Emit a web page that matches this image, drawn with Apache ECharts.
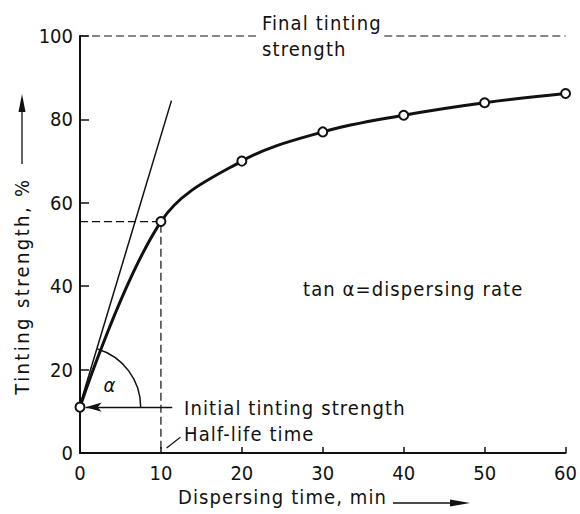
<!DOCTYPE html>
<html><head><meta charset="utf-8">
<script src="https://cdn.jsdelivr.net/npm/echarts@6/dist/echarts.min.js"></script>
<style>
html,body{margin:0;padding:0;background:#fff}
#c{width:580px;height:514px}
#c text[style*="sans-serif"]{letter-spacing:1.1px}
#c text[style*=", serif"]{letter-spacing:2.4px}
</style>
</head><body><div id="c"></div>
<script>
const times = [0, 10, 20, 30, 40, 50, 60];
const strength = [11, 55.5, 70, 77, 81, 84, 86.2];
const xTicks = [0, 10, 20, 30, 40, 50, 60];
const yTicks = [0, 20, 40, 60, 80, 100];
const tangentX = [-1.2, 11.3];
const tangentY = [3.8, 84.5];
const halfLifeTime = 10;
const halfLifeStrength = 55.5;
const finalStrength = 100;
const finalGapX = [21.9, 37.6];
const arcRadiusX = 7.5;
const leaderX = [10.7, 12.4];
const leaderY = [1.2, 3.8];
const arrowX = [11.4, 0.7];

const TICKFONT = '"DejaVu Sans Condensed"';
const TEXTFONT = '"DejaVu Sans Condensed", sans-serif';
const YNAMEFONT = '"DejaVu Sans Condensed", serif';
const INK = '#111';
const chart = echarts.init(document.getElementById('c'), null, {renderer: 'svg'});

const dashed = {color: INK, width: 1.2, type: [8, 4]};
function plainLine(data, lineStyle, extra) {
  return Object.assign({type: 'line', data: data, symbol: 'none', silent: true,
    lineStyle: lineStyle, clip: false, z: 2}, extra || {});
}
function txt(x, y, s, extra) {
  return Object.assign({type: 'text', x: x, y: y,
    style: {text: s, font: '20px ' + TEXTFONT, fill: INK, verticalAlign: 'middle'}}, extra || {});
}

chart.setOption({
  animation: false,
  backgroundColor: '#fff',
  grid: {left: 80, right: 14, top: 36, bottom: 61, containLabel: false},
  xAxis: {
    type: 'value', min: xTicks[0], max: xTicks[xTicks.length - 1], interval: 10,
    axisLine: {lineStyle: {color: INK, width: 2}},
    axisTick: {inside: true, length: 6, lineStyle: {color: INK, width: 1.5}},
    axisLabel: {color: INK, fontFamily: TICKFONT, fontSize: 20, margin: 10},
    splitLine: {show: false}
  },
  yAxis: {
    type: 'value', min: yTicks[0], max: yTicks[yTicks.length - 1], interval: 20,
    axisLine: {show: true, lineStyle: {color: INK, width: 2}},
    axisTick: {show: true, inside: true, length: 9, lineStyle: {color: INK, width: 1.5}},
    axisLabel: {color: INK, fontFamily: TICKFONT, fontSize: 20, margin: 7},
    splitLine: {show: false}
  },
  series: [
    plainLine([[0, halfLifeStrength], [halfLifeTime, halfLifeStrength], [halfLifeTime, 0]], dashed),
    plainLine([[0, finalStrength], [finalGapX[0], finalStrength]], dashed),
    plainLine([[finalGapX[1], finalStrength], [xTicks[xTicks.length - 1], finalStrength]], dashed),
    plainLine([[tangentX[0], tangentY[0]], [tangentX[1], tangentY[1]]], {color: INK, width: 1.5}),
    plainLine([[leaderX[0], leaderY[0]], [leaderX[1], leaderY[1]]], {color: INK, width: 1.2}),
    {
      type: 'custom', silent: true, z: 3, clip: false,
      data: [[0, strength[0]]],
      renderItem: function (params, api) {
        const c = api.coord([0, strength[0]]);
        const e = api.coord([arcRadiusX, strength[0]]);
        const p1 = api.coord([tangentX[0], tangentY[0]]);
        const p2 = api.coord([tangentX[1], tangentY[1]]);
        const a = Math.atan2(p2[1] - p1[1], p2[0] - p1[0]);
        return {
          type: 'arc',
          shape: {cx: c[0], cy: c[1], r: e[0] - c[0], startAngle: a, endAngle: 0, clockwise: true},
          style: {stroke: INK, lineWidth: 1.5, fill: null}
        };
      }
    },
    {
      type: 'line', data: [], silent: true, z: 2,
      markLine: {
        silent: true, animation: false,
        symbol: ['none', 'arrow'], symbolSize: [7, 16],
        label: {show: false},
        lineStyle: {color: INK, width: 1.3, type: 'solid'},
        data: [[{coord: [arrowX[0], strength[0]]}, {coord: [arrowX[1], strength[0]]}]]
      }
    },
    {
      type: 'line', data: times.map((t, i) => [t, strength[i]]),
      smooth: 0.36, clip: false, z: 5,
      symbol: 'circle', symbolSize: 9,
      lineStyle: {color: INK, width: 3},
      itemStyle: {color: '#fff', borderColor: INK, borderWidth: 2}
    }
  ],
  graphic: [
    txt(262, 23, 'Final tinting'),
    txt(262, 49, 'strength'),
    txt(303, 289, 'tan α=dispersing rate'),
    txt(184, 408, 'Initial tinting strength'),
    txt(184, 434, 'Half-life time'),
    txt(110, 385, 'α', {style: {text: 'α', font: 'italic 20px ' + TEXTFONT, fill: INK, align: 'center', verticalAlign: 'middle'}}),
    txt(178, 497, 'Dispersing time, min'),
    {type: 'line', shape: {x1: 393, y1: 503, x2: 455, y2: 503}, style: {stroke: INK, lineWidth: 1.3}},
    {type: 'polygon', shape: {points: [[470, 503], [450, 499.5], [450, 506.5]]}, style: {fill: INK}},
    txt(22, 286, 'Tinting strength, %', {rotation: Math.PI / 2,
      style: {text: 'Tinting strength, %', font: '20px ' + YNAMEFONT, fill: INK, align: 'center', verticalAlign: 'middle'}}),
    {type: 'line', shape: {x1: 22, y1: 164, x2: 22, y2: 108}, style: {stroke: INK, lineWidth: 1.3}},
    {type: 'polygon', shape: {points: [[22, 94], [18.5, 112], [25.5, 112]]}, style: {fill: INK}}
  ]
});
</script></body></html>
